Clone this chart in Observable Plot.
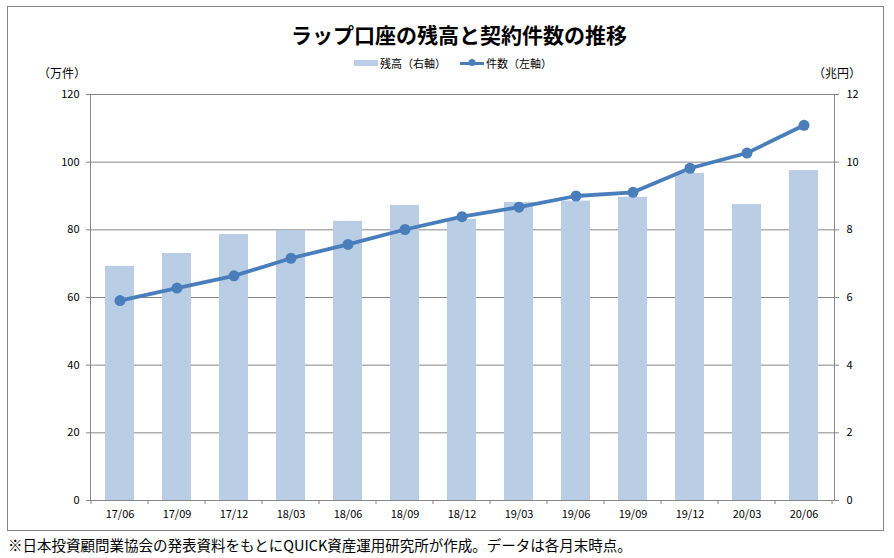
<!DOCTYPE html>
<html>
<head>
<meta charset="utf-8">
<script src="https://cdn.jsdelivr.net/npm/d3@7"></script>
<script src="https://cdn.jsdelivr.net/npm/@observablehq/plot@0.6"></script>
<style>
  html, body { margin: 0; padding: 0; background: #fff; }
  body { width: 894px; height: 558px; position: relative; overflow: hidden;
         font-family: "Noto Sans CJK JP", "Noto Sans", sans-serif; color: #000; }
  #frame { position: absolute; left: 7px; top: 6px; width: 877px; height: 525px;
           border: 1px solid #868686; box-sizing: border-box; }
  #title { position: absolute; left: 0; width: 918px; top: 19px; text-align: center;
           font-size: 21px; font-weight: bold; line-height: 30px; }
  #legend { position: absolute; left: 0; width: 906px; top: 54px; text-align: center;
            font-size: 11px; line-height: 16px; }
  #legend span { display: inline-flex; align-items: center; margin: 0 7px; }
  #legend svg { margin-right: 2px; }
  .unit { position: absolute; top: 65px; font-size: 12px; line-height: 16px; }
  #chart { position: absolute; left: 0; top: 60px; width: 894px; }
  #chart svg { max-width: none; }
  #note { position: absolute; left: 8px; top: 535px; font-size: 14.5px; line-height: 20px; white-space: nowrap; }
</style>
</head>
<body>
<div id="frame"></div>
<div id="title">ラップ口座の残高と契約件数の推移</div>
<div id="legend"></div>
<div class="unit" style="left:38px;">（万件）</div>
<div class="unit" style="left:813px;">（兆円）</div>
<div id="chart"></div>
<div id="note">※日本投資顧問業協会の発表資料をもとにQUICK資産運用研究所が作成。データは各月末時点。</div>
<script>
// ---- data ----
const categories = ["17/06","17/09","17/12","18/03","18/06","18/09","18/12","19/03","19/06","19/09","19/12","20/03","20/06"];
const balance = [6.92, 7.30, 7.86, 7.98, 8.25, 8.72, 8.31, 8.81, 8.85, 8.96, 9.67, 8.75, 9.75];      // 残高（兆円, 右軸）
const accounts = [59.1, 62.8, 66.4, 71.6, 75.7, 80.1, 83.9, 86.7, 90.0, 91.1, 98.2, 102.7, 110.9]; // 件数（万件, 左軸）
const leftTicks = [0, 20, 40, 60, 80, 100, 120];
const rightTicks = [0, 2, 4, 6, 8, 10, 12];
const seriesNames = ["残高（右軸）", "件数（左軸）"];

const barColor = "#B9CDE5";
const lineColor = "#4A7EBB";
const gridColor = "#868686";
const ratio = 10; // right axis 12 ↔ left axis 120

const rows = categories.map((c, i) => ({cat: c, bal: balance[i], acc: accounts[i]}));

// legend
document.getElementById("legend").innerHTML =
  `<span><svg width="24" height="8"><rect x="0" y="1" width="24" height="6" fill="${barColor}"/></svg>${seriesNames[0]}</span>` +
  `<span><svg width="24" height="8"><line x1="0" x2="24" y1="4.5" y2="4.5" stroke="${lineColor}" stroke-width="3"/><circle cx="12" cy="3.5" r="3.5" fill="${lineColor}"/></svg>${seriesNames[1]}</span>`;

const chart = Plot.plot({
  width: 894,
  height: 470,
  marginLeft: 90,
  marginRight: 60,
  marginTop: 34,
  marginBottom: 30,
  style: {fontFamily: '"Noto Sans CJK JP", "Noto Sans", sans-serif', fontSize: "11px", color: "#000", background: "transparent", overflow: "visible"},
  x: {type: "band", domain: categories, paddingInner: 0.49, paddingOuter: 0.245, align: 0.5, label: null},
  y: {domain: [0, 120], label: null},
  marks: [
    Plot.ruleY(leftTicks, {stroke: gridColor, strokeWidth: 1, strokeOpacity: 1}),
    Plot.barY(rows, {x: "cat", y: d => d.bal * ratio, fill: barColor}),
    Plot.frame({stroke: gridColor, strokeWidth: 1}),
    Plot.axisY(leftTicks, {anchor: "left", tickSize: 4, tickPadding: 7, stroke: gridColor, strokeOpacity: 1, label: null, fill: "#000"}),
    Plot.axisY(rightTicks.map(d => d * ratio), {anchor: "right", tickSize: 4, tickPadding: 8, tickFormat: d => d / ratio, stroke: gridColor, strokeOpacity: 1, label: null, fill: "#000"}),
    Plot.axisX({tickSize: 0, tickPadding: 10, label: null, fill: "#000"}),
    Plot.line(rows, {x: "cat", y: "acc", stroke: lineColor, strokeWidth: 3.8}),
    Plot.dot(rows, {x: "cat", y: "acc", r: 5.5, fill: lineColor, stroke: null})
  ]
});
document.getElementById("chart").appendChild(chart);

// category boundary ticks on the x axis, derived from the band scale
const xs = chart.scale("x");
const ys = chart.scale("y");
const gap = (xs.step - xs.bandwidth) / 2;
const bounds = categories.map(c => xs.apply(c) - gap);
bounds.push(xs.apply(categories[categories.length - 1]) + xs.bandwidth + gap);
const y0 = ys.apply(0);
d3.select(chart).append("g")
  .selectAll("line").data(bounds).join("line")
  .attr("x1", d => d).attr("x2", d => d)
  .attr("y1", y0).attr("y2", y0 + 4)
  .attr("stroke", gridColor);
</script>
</body>
</html>
